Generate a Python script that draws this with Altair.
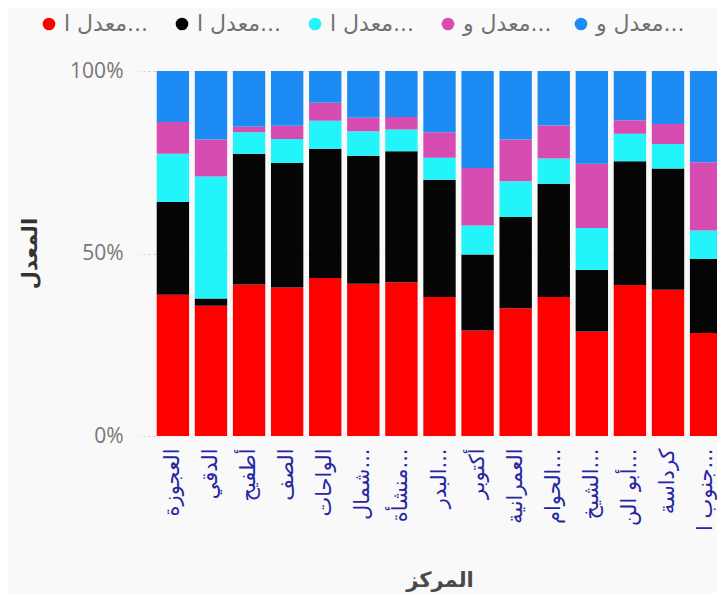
import altair as alt
import pandas as pd

centers = ["العجوزة", "الدقي", "أطفيح", "الصف", "الواحات", "شمال...", "منشأة...",
           "البدر...", "أكتوبر", "العمرانية", "الحوام...", "الشيخ...", "أبو الن...",
           "كرداسة", "جنوب ا..."]

series_keys = ["s1", "s2", "s3", "s4", "s5"]
series_labels = ["معدل ا...", "معدل ا...", "معدل ا...", "معدل و...", "معدل و..."]
series_colors = ["#FE0000", "#050505", "#22F4FA", "#D64CB0", "#1C8CF4"]

red = [38.7, 35.7, 41.5, 40.7, 43.3, 41.7, 42.1, 38.1, 28.9, 35.0, 38.1, 28.6, 41.4, 40.1, 28.2]
black = [25.4, 2.0, 35.8, 34.1, 35.4, 35.1, 35.9, 32.1, 20.8, 25.0, 31.0, 16.9, 33.9, 33.2, 20.3]
cyan = [13.2, 33.4, 5.9, 6.6, 7.7, 6.7, 6.0, 6.0, 8.0, 9.8, 6.9, 11.5, 7.5, 6.7, 7.8]
pink = [8.7, 10.1, 1.5, 3.6, 4.9, 3.7, 3.4, 7.0, 15.7, 11.4, 9.1, 17.6, 3.7, 5.5, 18.7]
blue = [14.0, 18.8, 15.3, 15.0, 8.7, 12.8, 12.6, 16.8, 26.6, 18.8, 14.9, 25.4, 13.5, 14.5, 25.0]

series_values = [red, black, cyan, pink, blue]

rows = []
for si, (key, vals) in enumerate(zip(series_keys, series_values)):
    for ci, c in enumerate(centers):
        rows.append({"center": c, "series": key, "order": si, "value": vals[ci]})
df = pd.DataFrame(rows)

label_expr = " : ".join(
    [f"datum.value == '{k}' ? '{l}'" for k, l in zip(series_keys, series_labels)]
) + " : ''"

chart = alt.Chart(df).mark_bar().encode(
    x=alt.X("center:N", sort=centers,
            scale=alt.Scale(range=[0, 569], paddingInner=0.15, paddingOuter=0.045),
            axis=alt.Axis(title="المركز", labelAngle=-90, labelPadding=12,
                          labelFontSize=21, labelColor="#2626a0", labelFont="DejaVu Sans",
                          labelLimit=200, ticks=False, domain=False,
                          titleFont="DejaVu Sans", titleFontSize=21, titleFontWeight="bold",
                          titleColor="#4a4a4a", titleY=144, titleBaseline="middle")),
    y=alt.Y("value:Q", stack="normalize",
            scale=alt.Scale(domain=[0, 1]),
            axis=alt.Axis(title="المعدل", format="%", values=[0, 0.5, 1],
                          labelFont="Open Sans", labelFontSize=21, labelColor="#777777",
                          tickSize=16, tickColor="#cccccc", tickDash=[2, 3],
                          labelPadding=16, domain=False,
                          grid=True, gridColor="#d8d8d8", gridDash=[1, 3],
                          titleFont="DejaVu Sans", titleFontSize=21, titleFontWeight="bold",
                          titleColor="#333333", titleX=-125, titleY=182,
                          titleBaseline="middle", titleAlign="center")),
    color=alt.Color("series:N", sort=series_keys,
                    scale=alt.Scale(domain=series_keys, range=series_colors),
                    legend=alt.Legend(title=None, orient="none", legendX=-117, legendY=-58,
                                      direction="horizontal", columns=5, gridAlign="all",
                                      columnPadding=18, labelExpr=label_expr,
                                      labelFont="DejaVu Sans", labelFontSize=22,
                                      labelColor="#707070", symbolType="circle",
                                      symbolSize=160, symbolStrokeWidth=0,
                                      labelOffset=4, labelLimit=200)),
    order=alt.Order("order:Q", sort="ascending"),
).properties(
    width=562, height=365,
    background="#f9f9f9",
    padding={"left": 147, "top": 63, "right": 0, "bottom": 157},
    autosize=alt.AutoSizeParams(type="none"),
).configure_view(stroke=None)

chart.save("out.html", embed_options={"renderer": "svg", "actions": False})
